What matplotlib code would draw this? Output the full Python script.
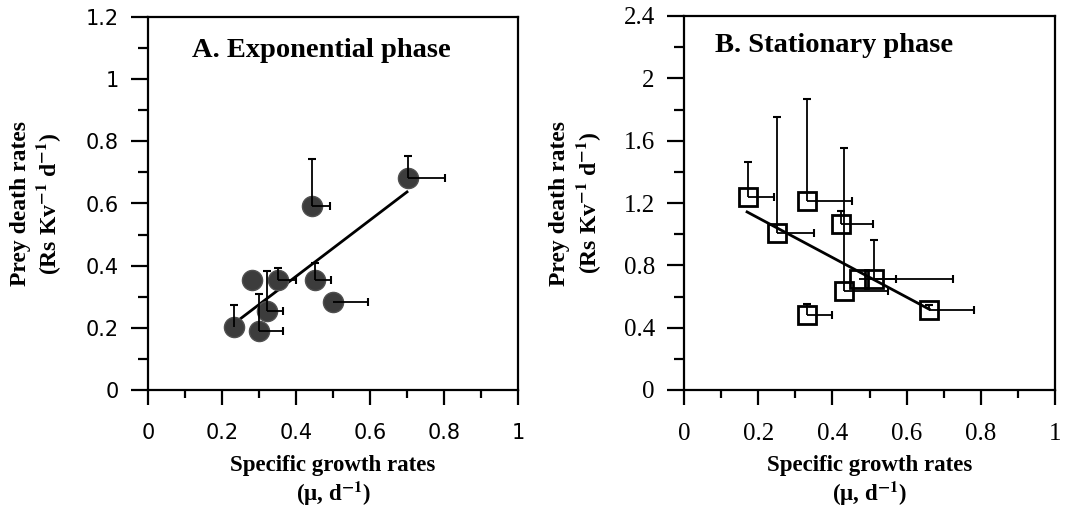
import numpy as np
import matplotlib
matplotlib.use("Agg")
import matplotlib.pyplot as plt

plt.rcParams['mathtext.fontset'] = 'stix'

# panel A: exponential phase (mu, death rate, one-sided SDs)
a_mu = [0.233, 0.300, 0.321, 0.282, 0.350, 0.450, 0.500, 0.442, 0.702]
a_death = [0.204, 0.190, 0.255, 0.354, 0.354, 0.354, 0.284, 0.593, 0.683]
a_death_sd = [0.069, 0.118, 0.128, 0.0, 0.037, 0.053, 0.0, 0.149, 0.070]
a_mu_sd = [0.0, 0.064, 0.043, 0.0, 0.050, 0.044, 0.094, 0.050, 0.100]
a_fit = (0.906, 0.003)      # slope, intercept
a_fit_range = (0.233, 0.700)

# panel B: stationary phase
b_mu = [0.172, 0.252, 0.331, 0.423, 0.431, 0.472, 0.513, 0.331, 0.661]
b_death = [1.241, 1.006, 1.213, 1.065, 0.637, 0.710, 0.710, 0.481, 0.513]
b_death_sd = [0.220, 0.744, 0.655, 0.086, 0.914, 0.0, 0.253, 0.071, 0.030]
b_mu_sd = [0.071, 0.099, 0.121, 0.087, 0.120, 0.100, 0.211, 0.069, 0.121]
b_fit = (-1.272, 1.359)
b_fit_range = (0.170, 0.661)

SERIF = 'Liberation Serif'
SANS = 'DejaVu Sans'
W, H = 1067, 512

fig = plt.figure(figsize=(10.67, 5.12), dpi=100)
axA = fig.add_axes([148/W, 122/H, 370/W, 373/H])
axB = fig.add_axes([684/W, 122/H, 371/W, 374/H])


def panel(ax, mu, d, dsd, musd, fit, frng, ymax, ystep, marker, tickfont, tsize,
          title, ty, yl_off):
    mu, d, dsd, musd = map(np.asarray, (mu, d, dsd, musd))
    z = np.zeros_like(mu)
    ax.errorbar(mu, d, xerr=[z, musd], yerr=[z, dsd], fmt='none',
                ecolor='black', elinewidth=1.3, capsize=0, zorder=4)
    m = dsd > 0
    ax.plot(mu[m], (d + dsd)[m], ls='none', marker='_', ms=6, mew=1.5, color='black', zorder=4)
    m = musd > 0
    ax.plot((mu + musd)[m], d[m], ls='none', marker='|', ms=6, mew=1.5, color='black', zorder=4)
    xs = np.array(frng)
    ax.plot(xs, fit[0] * xs + fit[1], color='black', lw=2.0, zorder=2)
    if marker == 'o':
        ax.plot(mu, d, ls='none', marker='o', ms=14.5, mfc='#3c3c3c', mec='#505050',
                mew=1.0, zorder=3)
    else:
        ax.plot(mu, d, ls='none', marker='s', ms=13.5, mfc='none', mec='black',
                mew=2.0, zorder=3)
    ax.set_xlim(0, 1)
    ax.set_ylim(0, ymax)
    ax.set_xticks(np.arange(0, 1.01, 0.2))
    ax.set_xticks(np.arange(0.1, 1.0, 0.2), minor=True)
    ax.set_xticklabels(['0', '0.2', '0.4', '0.6', '0.8', '1'])
    yt = np.arange(0, ymax + 1e-9, ystep)
    ax.set_yticks(yt)
    ax.set_yticks(yt[:-1] + ystep / 2, minor=True)
    ax.set_yticklabels([('%g' % v) for v in yt])
    for s in ax.spines.values():
        s.set_linewidth(1.6)
    ax.tick_params(which='major', direction='out', length=11, width=1.6, pad=13)
    ax.tick_params(which='minor', direction='out', length=6, width=1.6)
    ax.tick_params(axis='y', which='major', length=12, pad=9)
    ax.tick_params(axis='y', which='minor', length=7)
    for lab in ax.get_xticklabels() + ax.get_yticklabels():
        lab.set_fontfamily(tickfont)
        lab.set_fontsize(tsize)
    ax.text(ty[0], ty[1], title, transform=ax.transAxes, family=SERIF,
            fontweight='bold', fontsize=20.5, ha='left', va='baseline')
    # two-line axis labels placed in figure coordinates
    bb = ax.get_position()
    xc = (bb.x0 + bb.x1) / 2
    fig.text(xc, 1 - 465/H, 'Specific growth rates', family=SERIF, fontweight='bold',
             fontsize=16.5, ha='center', va='center')
    fig.text(xc, 1 - 494/H, '(μ, d$^{\\mathbf{-1}}$)', family=SERIF, fontweight='bold',
             fontsize=16.5, ha='center', va='center')
    yc = (bb.y0 + bb.y1) / 2
    lx = bb.x0 - yl_off/W
    fig.text(lx, yc, 'Prey death rates', rotation=90, family=SERIF, fontweight='bold',
             fontsize=17, ha='center', va='center')
    fig.text(lx + 29/W, yc, '(Rs Kv$^{\\mathbf{-1}}$ d$^{\\mathbf{-1}}$)', rotation=90,
             family=SERIF, fontweight='bold', fontsize=17, ha='center', va='center')


panel(axA, a_mu, a_death, a_death_sd, a_mu_sd, a_fit, a_fit_range, 1.2, 0.2, 'o', SANS,
      15, 'A. Exponential phase', (0.119, 0.893), 128)
panel(axB, b_mu, b_death, b_death_sd, b_mu_sd, b_fit, b_fit_range, 2.4, 0.4, 's', SERIF,
      18, 'B. Stationary phase', (0.084, 0.905), 124)

fig.savefig('out.png', dpi=100)
